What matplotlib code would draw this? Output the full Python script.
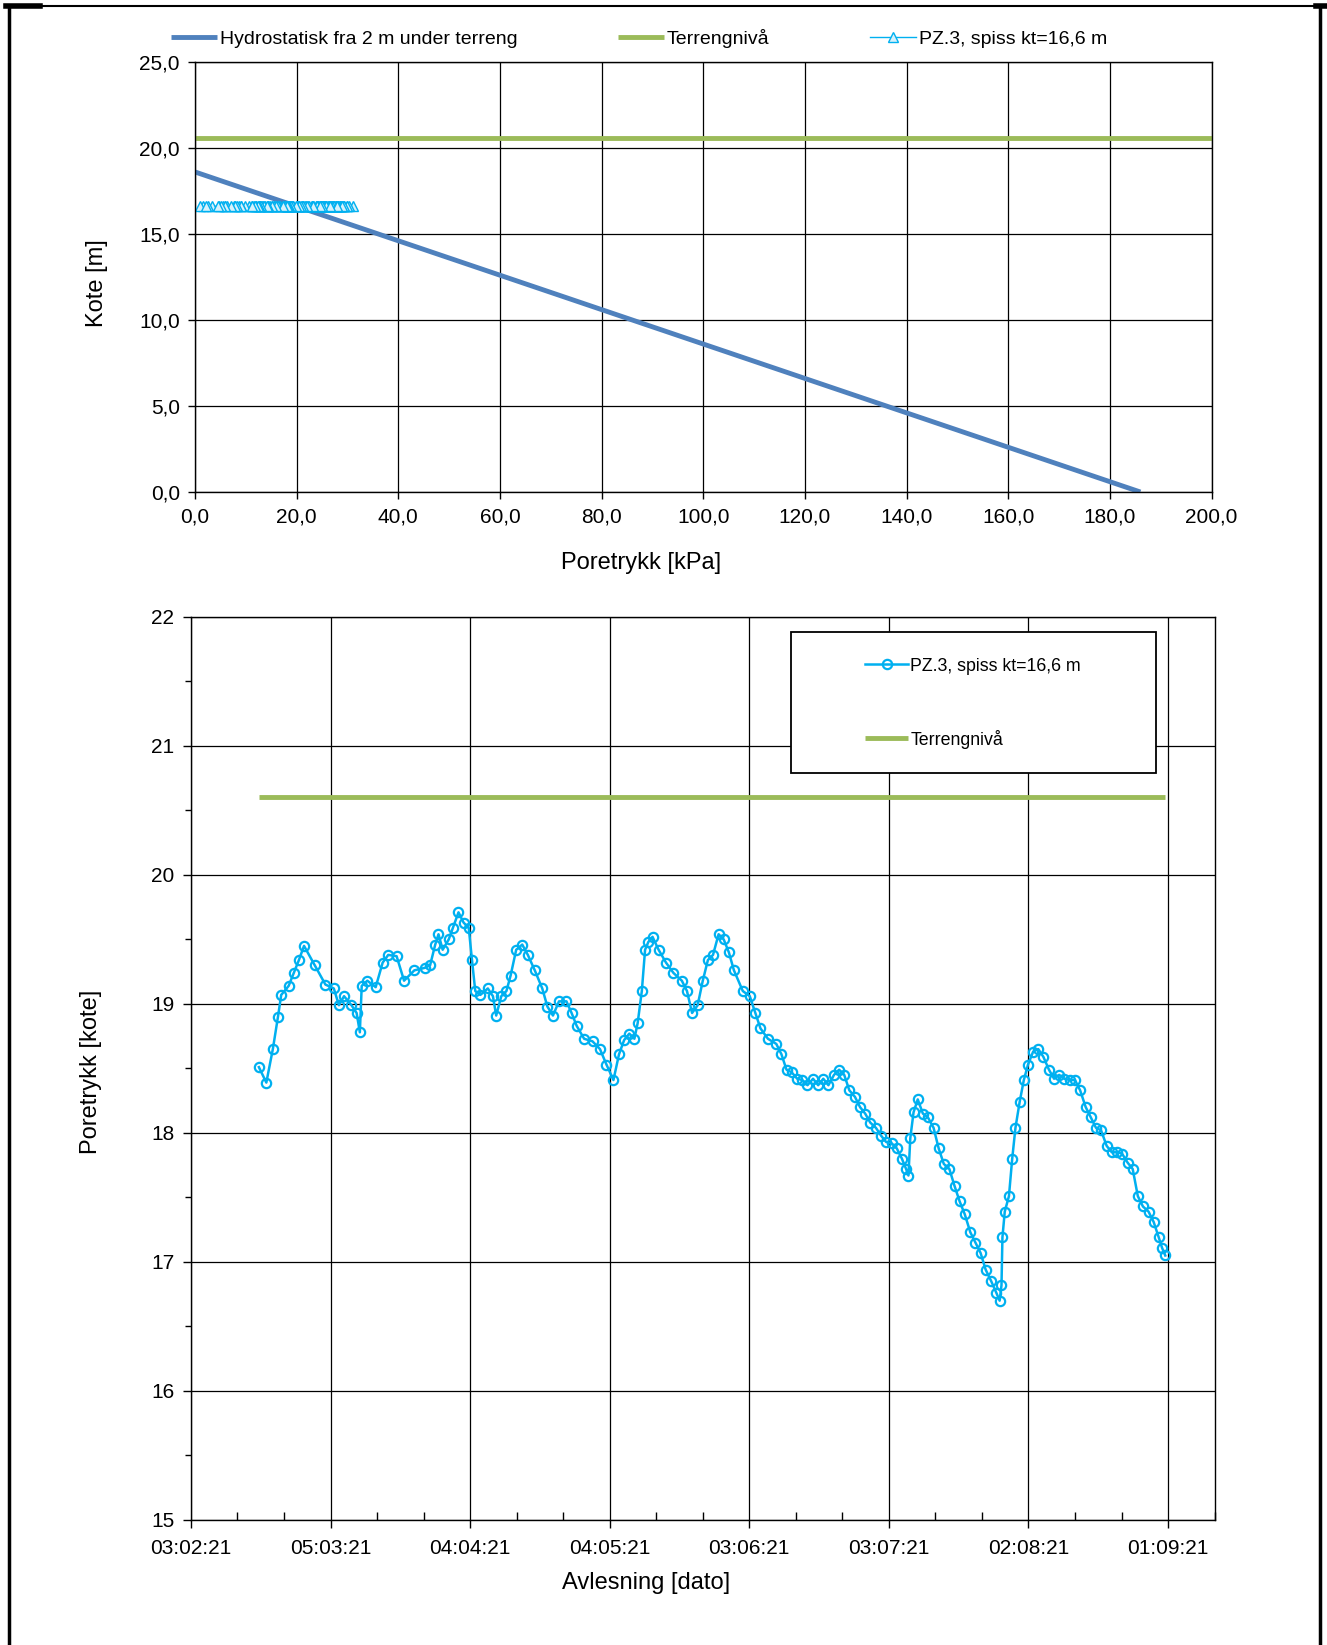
import numpy as np
import pandas as pd
import matplotlib
matplotlib.use("Agg")
import matplotlib.pyplot as plt
import matplotlib.dates as mdates
from matplotlib.ticker import FuncFormatter, MultipleLocator
from matplotlib.lines import Line2D
from matplotlib.patches import Rectangle

plt.rcParams['font.family'] = ['Liberation Sans', 'DejaVu Sans']

# Data
startdato = "2021-02-03"
terreng = 20.6
spiss = 16.6

# hydrostatisk linje (kPa, kote)
hydro_kpa = [0.0, 186.0]
hydro_kote = [18.6, 0.0]
terreng_kpa = [0.0, 200.0]

# avlesninger PZ.3: dager etter startdato, kote
dager = [14.6, 16.2, 17.6, 18.7, 19.4, 21.0, 22.1, 23.2, 24.3, 26.6, 28.9, 30.7, 31.8, 32.9, 34.5, 35.6,
         36.3, 36.7, 37.9, 39.7, 41.2, 42.4, 44.2, 45.8, 48.0, 50.3, 51.4, 52.5, 53.2, 54.1, 55.4, 56.3,
         57.5, 58.6, 59.7, 60.4, 61.1, 62.2, 63.8, 64.9, 65.6, 66.7, 67.8, 68.7, 69.9, 71.2, 72.4, 73.9,
         75.5, 76.6, 77.8, 79.1, 80.7, 81.8, 82.9, 84.5, 86.3, 87.9, 89.3, 90.8, 92.0, 93.1, 94.2, 95.3,
         96.0, 96.9, 97.6, 98.3, 99.2, 100.5, 102.1, 103.7, 105.5, 106.6, 107.7, 108.9, 110.0, 111.1,
         112.2, 113.4, 114.5, 115.6, 116.7, 118.6, 120.1, 121.3, 122.4, 124.0, 125.8, 126.9, 128.0,
         129.1, 130.3, 131.4, 132.5, 133.7, 134.8, 135.9, 137.0, 138.2, 139.3, 140.4, 141.5, 142.7,
         143.8, 144.9, 146.0, 147.2, 148.3, 149.4, 150.6, 151.7, 152.8, 153.7, 154.2, 154.6, 155.3,
         156.2, 157.3, 158.4, 159.6, 160.7, 161.8, 163.0, 164.1, 165.2, 166.3, 167.5, 168.6, 169.7,
         170.8, 172.0, 173.1, 173.8, 174.2, 174.4, 174.9, 175.8, 176.5, 177.2, 178.1, 179.0, 179.9,
         181.0, 182.1, 183.2, 184.4, 185.5, 186.6, 187.7, 188.9, 190.0, 191.1, 192.3, 193.4, 194.5,
         195.6, 196.8, 197.9, 199.0, 200.1, 201.3, 202.4, 203.5, 204.6, 205.8, 206.9, 208.0, 208.7, 209.4]

kote = [18.51, 18.39, 18.65, 18.90, 19.07, 19.14, 19.24, 19.34, 19.45, 19.30, 19.15, 19.12, 18.99, 19.06,
        18.99, 18.93, 18.78, 19.14, 19.18, 19.13, 19.32, 19.38, 19.37, 19.18, 19.26, 19.28, 19.30, 19.46,
        19.54, 19.42, 19.50, 19.59, 19.71, 19.63, 19.59, 19.34, 19.10, 19.07, 19.12, 19.06, 18.91, 19.06,
        19.10, 19.22, 19.42, 19.46, 19.38, 19.26, 19.12, 18.98, 18.91, 19.02, 19.02, 18.93, 18.83, 18.73,
        18.71, 18.65, 18.53, 18.41, 18.61, 18.72, 18.77, 18.73, 18.85, 19.10, 19.42, 19.48, 19.52, 19.42,
        19.32, 19.24, 19.18, 19.10, 18.93, 18.99, 19.18, 19.34, 19.38, 19.54, 19.50, 19.40, 19.26, 19.10,
        19.06, 18.93, 18.81, 18.73, 18.69, 18.61, 18.49, 18.47, 18.42, 18.41, 18.37, 18.42, 18.37, 18.42,
        18.37, 18.45, 18.49, 18.45, 18.33, 18.28, 18.20, 18.15, 18.08, 18.04, 17.98, 17.93, 17.92, 17.88,
        17.80, 17.72, 17.67, 17.96, 18.16, 18.26, 18.15, 18.12, 18.04, 17.88, 17.76, 17.72, 17.59, 17.47,
        17.37, 17.23, 17.15, 17.07, 16.94, 16.85, 16.76, 16.70, 16.82, 17.19, 17.39, 17.51, 17.80, 18.04,
        18.24, 18.41, 18.53, 18.63, 18.65, 18.59, 18.49, 18.42, 18.45, 18.42, 18.41, 18.41, 18.33, 18.20,
        18.12, 18.04, 18.02, 17.90, 17.85, 17.85, 17.84, 17.77, 17.72, 17.51, 17.43, 17.39, 17.31, 17.19,
        17.11, 17.05]

start = pd.Timestamp(startdato)
tider = start + pd.to_timedelta(dager, unit="D")
kote = np.array(kote)
# poretrykk ved spissen (kPa)
pz_kpa = (kote - spiss) * 10.0

BLA = "#4F81BD"
GRONN = "#9BBB59"
CYAN = "#00B0F0"

komma = FuncFormatter(lambda v, p: f"{v:.1f}".replace(".", ","))

fig = plt.figure(figsize=(13.27, 16.45), dpi=100)

# =========================
# OVRE FIGUR
# =========================
ax1 = fig.add_axes([0.147, 0.7009, 0.766, 0.2615])

h1, = ax1.plot(hydro_kpa, hydro_kote, color=BLA, lw=3.5, solid_capstyle="butt")
h2, = ax1.plot(terreng_kpa, [terreng, terreng], color=GRONN, lw=3.5, solid_capstyle="butt")
h3, = ax1.plot(pz_kpa, [spiss] * len(pz_kpa), color=CYAN, lw=1, marker="^",
               ms=7.5, mfc="#D6F1FB", mec=CYAN, mew=1)

ax1.set_xlim(0, 200)
ax1.set_ylim(0, 25)
ax1.xaxis.set_major_locator(MultipleLocator(20))
ax1.yaxis.set_major_locator(MultipleLocator(5))
ax1.xaxis.set_major_formatter(komma)
ax1.yaxis.set_major_formatter(komma)
ax1.grid(True, color="black", lw=0.9)
ax1.set_axisbelow(True)
ax1.tick_params(axis="both", direction="out", length=5, width=1, labelsize=15, pad=6)
for s in ax1.spines.values():
    s.set_linewidth(1)
ax1.set_xlabel("Poretrykk [kPa]", fontsize=17, va="center", ha="center")
ax1.xaxis.set_label_coords(0.4386, -0.166)
ax1.set_ylabel("Kote [m]", fontsize=17, va="center", ha="center")
ax1.yaxis.set_label_coords(-0.096, 0.485)

fig.legend([h1, h2, h3],
           ["Hydrostatisk fra 2 m under terreng", "Terrengnivå", "PZ.3, spiss kt=16,6 m"],
           loc="center left", bbox_to_anchor=(171 / 1327, 1 - 38.5 / 1645),
           ncol=3, frameon=False, fontsize=14, handlelength=2.37, handletextpad=0.15,
           columnspacing=5.15, borderpad=0, borderaxespad=0, numpoints=1)

# =========================
# NEDRE FIGUR
# =========================
ax2 = fig.add_axes([0.1439, 0.076, 0.7714, 0.549])

l1, = ax2.plot(tider, kote, color=CYAN, lw=1.8, marker="o", ms=6.7,
               mfc="none", mec=CYAN, mew=1.6)
l2, = ax2.plot([tider[0], tider[-1]], [terreng, terreng], color=GRONN, lw=3.5,
               solid_capstyle="butt")

ax2.set_ylim(15, 22)
ax2.set_xlim(start, start + pd.Timedelta(days=220))
ax2.set_xticks([start + pd.Timedelta(days=30 * k) for k in range(8)])
ax2.set_xticks([start + pd.Timedelta(days=10 * k) for k in range(23)], minor=True)
ax2.xaxis.set_major_formatter(mdates.DateFormatter("%d:%m:%y"))
ax2.yaxis.set_major_locator(MultipleLocator(1))
ax2.yaxis.set_minor_locator(MultipleLocator(0.5))
ax2.grid(True, which="major", color="black", lw=0.9)
ax2.set_axisbelow(True)
ax2.tick_params(axis="x", which="major", direction="out", length=6, width=1, labelsize=15, pad=8)
ax2.tick_params(axis="x", which="minor", direction="in", length=6, width=1)
ax2.tick_params(axis="y", which="major", direction="out", length=6, width=1, labelsize=15, pad=6)
ax2.tick_params(axis="y", which="minor", direction="out", length=4, width=1)
for s in ax2.spines.values():
    s.set_linewidth(1)
ax2.set_xlabel("Avlesning [dato]", fontsize=17, va="center", ha="center")
ax2.xaxis.set_label_coords(0.4447, -0.0697)
ax2.set_ylabel("Poretrykk [kote]", fontsize=17, va="center", ha="center")
ax2.yaxis.set_label_coords(-0.0973, 0.496)

boks = Rectangle((0.586, 0.827), 0.3567, 0.1567, transform=ax2.transAxes,
                 facecolor="white", edgecolor="black", lw=1.3, zorder=5)
ax2.add_patch(boks)
leg = ax2.legend([l1, l2], ["PZ.3, spiss kt=16,6 m", "Terrengnivå"],
                 loc="center left", bbox_to_anchor=(0.6584, 0.9045), frameon=False,
                 fontsize=12.8, handlelength=2.45, handletextpad=0.1, labelspacing=3.1,
                 borderpad=0, borderaxespad=0, numpoints=1)
leg.set_zorder(6)

# ramme rundt siden
venstre, hoyre, topp = 9.4 / 1327, 1320 / 1327, 1 - 6.3 / 1645
fig.add_artist(Line2D([venstre, hoyre], [topp, topp], transform=fig.transFigure, color="black", lw=1.5))
fig.add_artist(Line2D([venstre, venstre], [0, topp], transform=fig.transFigure, color="black", lw=2.5))
fig.add_artist(Line2D([hoyre, hoyre], [0, topp], transform=fig.transFigure, color="black", lw=2.5))
fig.add_artist(Line2D([6 / 1327, 40 / 1327], [topp, topp], transform=fig.transFigure, color="black", lw=4))
fig.add_artist(Line2D([1316 / 1327, 1327 / 1327], [topp, topp], transform=fig.transFigure, color="black", lw=4))

fig.savefig("out.png", dpi=100)
